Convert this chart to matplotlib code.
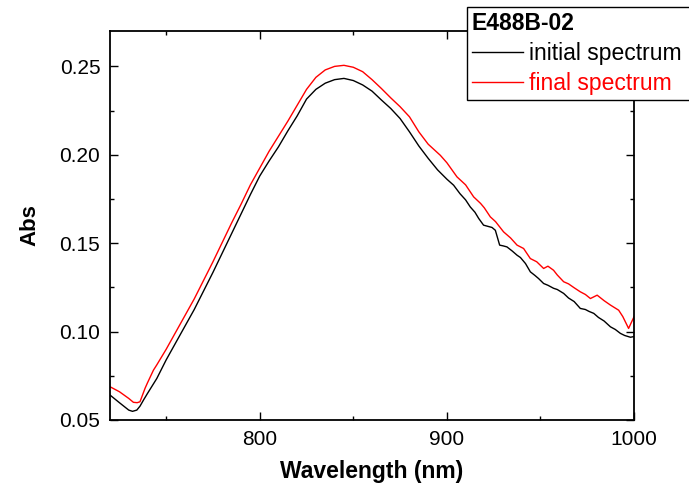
"""
Absorbance spectra of E488B-02, initial vs final
"""

import matplotlib
matplotlib.use("Agg")
import matplotlib.pyplot as plt
from matplotlib.ticker import MultipleLocator

plt.rcParams["font.family"] = ["Liberation Sans", "DejaVu Sans"]

# values
wl_initial = [720, 725, 730, 732, 734.3, 736, 738, 740, 745, 750, 755, 760, 765, 770,
              775, 780, 785, 790, 795, 800, 805, 810, 815, 820, 825, 830, 835, 840,
              845, 850, 855, 860, 865, 870, 875, 880, 885, 890, 895, 900, 903.6, 907,
              910, 912.5, 915, 917, 919.6, 922, 924.1, 925.9, 928.2, 930, 932.1, 935,
              937.5, 939.3, 942, 944.6, 947, 949, 951.7, 954, 957, 959, 962.4, 965,
              968, 971.3, 974, 976, 978.5, 981, 984, 987.4, 990, 992.7, 995, 998.1,
              1000]
abs_initial = [0.0641, 0.0598, 0.0556, 0.0549, 0.0556, 0.0578, 0.0615, 0.0650, 0.0735,
               0.0840, 0.0935, 0.1030, 0.1125, 0.1230, 0.1335, 0.1445, 0.1555, 0.1665,
               0.1775, 0.1880, 0.1965, 0.2045, 0.2135, 0.2220, 0.2315, 0.2370, 0.2405,
               0.2425, 0.2432, 0.2420, 0.2395, 0.2360, 0.2310, 0.2262, 0.2205, 0.2130,
               0.2050, 0.1980, 0.1915, 0.1862, 0.1828, 0.1780, 0.1745, 0.1705, 0.1675,
               0.1640, 0.1602, 0.1595, 0.1589, 0.1573, 0.1489, 0.1485, 0.1479, 0.1455,
               0.1432, 0.1419, 0.1385, 0.1338, 0.1318, 0.1300, 0.1272, 0.1262, 0.1245,
               0.1238, 0.1216, 0.1190, 0.1170, 0.1131, 0.1125, 0.1114, 0.1103, 0.1080,
               0.1060, 0.1027, 0.1012, 0.0990, 0.0978, 0.0968, 0.0972]

wl_final = [720, 725, 730, 732.5, 734.5, 736, 738.7, 740, 743.2, 745, 750, 755, 760,
            765, 770, 775, 780, 785, 790, 795, 800, 805, 810, 815, 820, 825, 830, 835,
            840, 845, 850, 855, 860, 865, 870, 875, 880, 885, 890, 896.5, 900, 905.4,
            910, 914.3, 918, 920, 923.2, 926, 930.3, 934, 937.5, 941, 944.6, 948,
            951.7, 954, 957, 959, 962.4, 965, 968, 971.3, 974, 976.7, 980.3, 984,
            987.4, 991.8, 994, 997.1, 1000]
abs_final = [0.0688, 0.0660, 0.0622, 0.0600, 0.0598, 0.0603, 0.0679, 0.0710, 0.0782,
             0.0812, 0.0900, 0.0995, 0.1090, 0.1185, 0.1290, 0.1395, 0.1505, 0.1615,
             0.1720, 0.1830, 0.1925, 0.2020, 0.2105, 0.2190, 0.2280, 0.2370, 0.2438,
             0.2480, 0.2500, 0.2506, 0.2495, 0.2470, 0.2425, 0.2375, 0.2322, 0.2272,
             0.2215, 0.2130, 0.2060, 0.1997, 0.1955, 0.1875, 0.1830, 0.1762, 0.1725,
             0.1700, 0.1649, 0.1622, 0.1564, 0.1530, 0.1489, 0.1470, 0.1413, 0.1395,
             0.1357, 0.1370, 0.1347, 0.1320, 0.1282, 0.1270, 0.1248, 0.1225, 0.1210,
             0.1187, 0.1206, 0.1175, 0.1150, 0.1121, 0.1085, 0.1018, 0.1084]

sample_id = "E488B-02"

fig = plt.figure(figsize=(6.89, 4.94), dpi=100)
ax = fig.add_axes([0.1597, 0.1498, 0.7605, 0.7874])

ax.plot(wl_initial, abs_initial, color="black", lw=1.0, label="initial spectrum")
ax.plot(wl_final, abs_final, color="red", lw=1.0, label="final spectrum")

ax.set_xlim(720, 1000)
ax.set_ylim(0.05, 0.27)
ax.xaxis.set_major_locator(MultipleLocator(100))
ax.xaxis.set_minor_locator(MultipleLocator(50))
ax.yaxis.set_major_locator(MultipleLocator(0.05))
ax.yaxis.set_minor_locator(MultipleLocator(0.025))
ax.yaxis.set_major_formatter(plt.FormatStrFormatter("%.2f"))

ax.tick_params(which="both", direction="in", top=True, right=True, width=1.0,
               labelsize=15, pad=7)
ax.tick_params(which="major", length=6)
ax.tick_params(which="minor", length=3)
for sp in ax.spines.values():
    sp.set_linewidth(1.3)

ax.set_xlabel("Wavelength (nm)", fontsize=16.5, fontweight="bold", labelpad=8)
ax.set_ylabel("Abs", fontsize=16, fontweight="bold", labelpad=14)

# legend box runs past the right edge of the figure, as in the original
leg = fig.legend(loc="upper left",
                 bbox_to_anchor=(467 / 689, 1 - 7 / 494, 235 / 689, 0.0),
                 mode="expand",
                 title=sample_id, title_fontproperties={"weight": "bold", "size": 16.5},
                 fontsize=16.5, frameon=True, fancybox=False, framealpha=1,
                 edgecolor="black", handlelength=2.25, handletextpad=0.25,
                 borderpad=0.2, borderaxespad=0, labelspacing=0.32)
leg._legend_box.align = "left"
leg.get_frame().set_linewidth(1.0)
for text, line in zip(leg.get_texts(), leg.get_lines()):
    text.set_color(line.get_color())

fig.savefig("out.png", dpi=100)
